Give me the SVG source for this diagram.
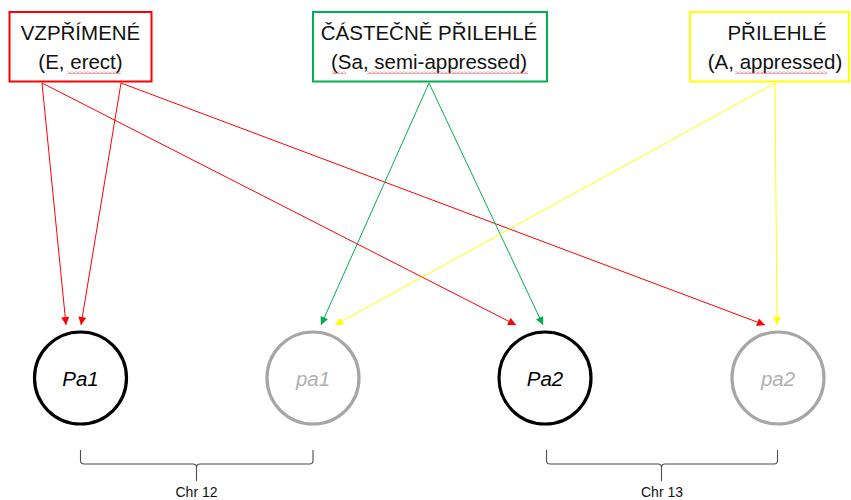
<svg xmlns="http://www.w3.org/2000/svg" width="851" height="500" viewBox="0 0 851 500">
  <defs>
    <style>
      .box { fill: #fff; stroke-width: 2; }
      .lbl { font-family: "Liberation Sans", Arial, sans-serif; font-size: 20.5px; fill: #111; text-anchor: middle; }
      .gene { fill: #fff; stroke-width: 3.2; }
      .gtxt { font-family: "Liberation Sans", Arial, sans-serif; font-size: 20.5px; font-style: italic; text-anchor: middle; }
      .brace { fill: none; stroke: #4d4d4d; stroke-width: 1.1; }
      .chr { font-family: "Liberation Sans", Arial, sans-serif; font-size: 14px; fill: #111; text-anchor: middle; }
      .edge { fill: none; stroke-width: 1; }
    </style>
    <pattern id="squiggle" width="4" height="3" patternUnits="userSpaceOnUse">
      <path d="M0,2.5 L2,0.5 L4,2.5" fill="none" stroke="#e02020" stroke-width="0.8"/>
    </pattern>
    <marker id="ahRed" viewBox="0 0 10 10" refX="10" refY="5" markerWidth="9" markerHeight="8" markerUnits="userSpaceOnUse" orient="auto">
      <path d="M0,0 L10,5 L0,10 Z" fill="#ff0000"/>
    </marker>
    <marker id="ahGreen" viewBox="0 0 10 10" refX="10" refY="5" markerWidth="9" markerHeight="8" markerUnits="userSpaceOnUse" orient="auto">
      <path d="M0,0 L10,5 L0,10 Z" fill="#00b050"/>
    </marker>
    <marker id="ahYellow" viewBox="0 0 10 10" refX="10" refY="5" markerWidth="9" markerHeight="8" markerUnits="userSpaceOnUse" orient="auto">
      <path d="M0,0 L10,5 L0,10 Z" fill="#ffff00"/>
    </marker>
  </defs>

  <rect width="851" height="500" fill="#fff"/>

  <!-- connectors -->
  <g id="connectors">
    <line class="edge" stroke="#ff0000" x1="42" y1="83" x2="66" y2="325" marker-end="url(#ahRed)"/>
    <line class="edge" stroke="#ff0000" x1="121" y1="83" x2="81" y2="325" marker-end="url(#ahRed)"/>
    <line class="edge" stroke="#ff0000" x1="42" y1="83" x2="516" y2="325" marker-end="url(#ahRed)"/>
    <line class="edge" stroke="#ff0000" x1="121" y1="83" x2="765" y2="325" marker-end="url(#ahRed)"/>
    <line class="edge" stroke="#00b050" x1="429" y1="83" x2="321" y2="325" marker-end="url(#ahGreen)"/>
    <line class="edge" stroke="#00b050" x1="429" y1="83" x2="543" y2="325" marker-end="url(#ahGreen)"/>
    <line class="edge" stroke="#ffff00" x1="775" y1="83" x2="335" y2="325" marker-end="url(#ahYellow)"/>
    <line class="edge" stroke="#ffff00" x1="775" y1="83" x2="777" y2="325" marker-end="url(#ahYellow)"/>
  </g>

  <!-- growth habit categories -->
  <g id="erect">
    <rect class="box" x="9.5" y="12" width="142" height="69.5" stroke="#ff0000"/>
    <text class="lbl" x="80.5" y="40">VZPŘÍMENÉ</text>
    <text class="lbl" x="80.5" y="69">(E, erect)</text>
    <rect x="67" y="71" width="54" height="3" fill="url(#squiggle)"/>
  </g>

  <g id="semi-appressed">
    <rect class="box" x="313" y="12" width="234" height="69.5" stroke="#00b050"/>
    <text class="lbl" x="429" y="40">ČÁSTEČNĚ PŘILEHLÉ</text>
    <text class="lbl" x="429" y="69">(Sa, semi-appressed)</text>
    <rect x="332" y="71" width="14" height="3" fill="url(#squiggle)"/>
    <rect x="367" y="71" width="161" height="3" fill="url(#squiggle)"/>
  </g>

  <g id="appressed">
    <rect class="box" x="690" y="12" width="159" height="69.5" stroke="#ffff00"/>
    <text class="lbl" x="777" y="40">PŘILEHLÉ</text>
    <text class="lbl" x="775" y="69">(A, appressed)</text>
    <rect x="735" y="71" width="92" height="3" fill="url(#squiggle)"/>
  </g>

  <!-- alleles -->
  <g id="Pa1">
    <circle class="gene" cx="80.5" cy="378" r="46" stroke="#000"/>
    <text class="gtxt" x="80.5" y="386" fill="#000">Pa1</text>
  </g>
  <g id="pa1">
    <circle class="gene" cx="313" cy="378" r="46" stroke="#a6a6a6"/>
    <text class="gtxt" x="313" y="386" fill="#b0b0b0">pa1</text>
  </g>
  <g id="Pa2">
    <circle class="gene" cx="545" cy="378" r="46" stroke="#000"/>
    <text class="gtxt" x="545" y="386" fill="#000">Pa2</text>
  </g>
  <g id="pa2">
    <circle class="gene" cx="778" cy="378" r="46" stroke="#a6a6a6"/>
    <text class="gtxt" x="778" y="386" fill="#b0b0b0">pa2</text>
  </g>

  <!-- chromosome braces -->
  <g id="chr12">
    <path class="brace" d="M80.5,450 L80.5,460.5 Q80.5,464 84,464 L193,464 Q196.5,464 196.5,467.5 L196.5,481 M196.5,467.5 Q196.5,464 200,464 L309.5,464 Q313,464 313,460.5 L313,450"/>
    <text class="chr" x="196.5" y="497">Chr 12</text>
  </g>
  <g id="chr13">
    <path class="brace" d="M546.5,450 L546.5,460.5 Q546.5,464 550,464 L658,464 Q661.5,464 661.5,467.5 L661.5,481 M661.5,467.5 Q661.5,464 665,464 L774,464 Q777.5,464 777.5,460.5 L777.5,450"/>
    <text class="chr" x="662" y="497">Chr 13</text>
  </g>
</svg>
